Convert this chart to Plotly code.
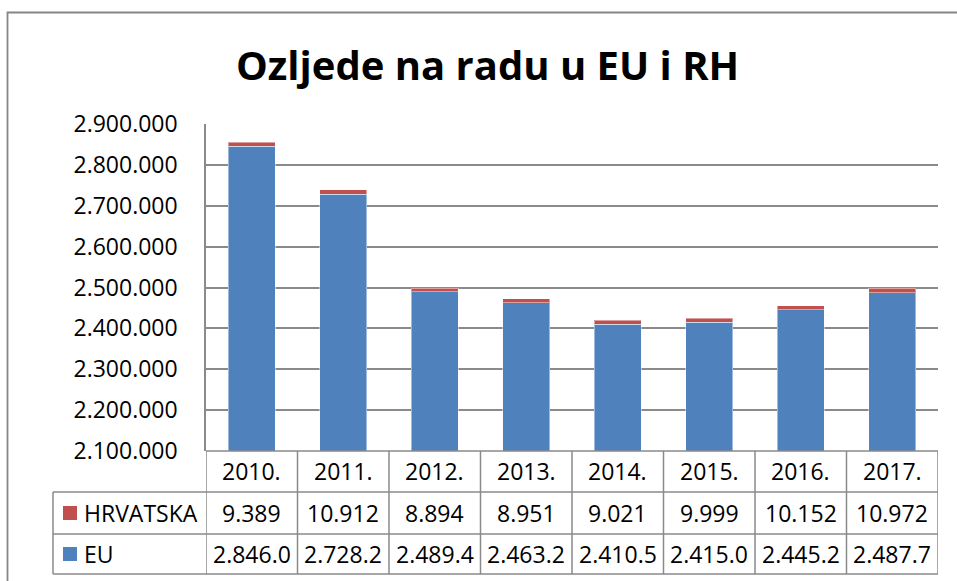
import plotly.graph_objects as go

years = ["2010.", "2011.", "2012.", "2013.", "2014.", "2015.", "2016.", "2017."]
hr_values = [9389, 10912, 8894, 8951, 9021, 9999, 10152, 10972]
eu_values = [2846000, 2728200, 2489400, 2463200, 2410500, 2415000, 2445200, 2487700]
series_names = ["HRVATSKA", "EU"]
title_text = "Ozljede na radu u EU i RH"

EU_COLOR = "#4F81BD"
HR_COLOR = "#C0504D"
GRID = "#8A8A8A"
FONT = "Open Sans"
FS = 23

W, H = 957, 581
L, R, T, B = 206, 19, 124, 130
PW = W - L - R
PH = H - T - B


def px(xp):
    return (xp - L) / PW


def py(yp):
    return (H - B - yp) / PH


def fmt(v):
    return f"{v:,}".replace(",", ".")


fig = go.Figure()
fig.add_trace(go.Bar(x=years, y=eu_values, name=series_names[1], marker=dict(color=EU_COLOR, line=dict(color="rgba(255,255,255,0.45)", width=1))))
fig.add_trace(go.Bar(x=years, y=hr_values, name=series_names[0], marker=dict(color=HR_COLOR, line=dict(color="rgba(255,255,255,0.45)", width=1))))

shapes = []
annotations = []

# outer chart border (left + top)
shapes.append(dict(type="path", xref="paper", yref="paper",
                   path=f"M {px(7.5)},{py(585)} L {px(7.5)},{py(12.5)} L {px(965)},{py(12.5)}",
                   line=dict(color="#868686", width=1.8)))

# table horizontal lines
y_rows = [451, 492, 534, 574]
for i, yy in enumerate(y_rows):
    x0 = px(206) if i == 0 else px(53)
    shapes.append(dict(type="line", xref="paper", yref="paper", x0=x0, x1=px(938), y0=py(yy), y1=py(yy),
                       line=dict(color=GRID, width=1.5)))
# table vertical lines at category boundaries
for i in range(len(years) + 1):
    shapes.append(dict(type="line", xref="x", yref="paper", x0=i - 0.5, x1=i - 0.5, y0=py(451), y1=py(574),
                       line=dict(color=GRID, width=1.5)))
shapes.append(dict(type="line", xref="paper", yref="paper", x0=px(53), x1=px(53), y0=py(492), y1=py(574),
                   line=dict(color=GRID, width=1.5)))

# legend keys
for yc, col in [(513, HR_COLOR), (554, EU_COLOR)]:
    shapes.append(dict(type="rect", xref="paper", yref="paper", x0=px(63), x1=px(77), y0=py(yc - 7), y1=py(yc + 7),
                       fillcolor=col, line=dict(width=0)))
for yc, name in [(513, series_names[0]), (554, series_names[1])]:
    annotations.append(dict(xref="paper", yref="paper", x=px(82), y=py(yc), text=name, showarrow=False,
                            xanchor="left", yanchor="middle", font=dict(family=FONT, size=FS, color="black")))

# table text
for i, yr in enumerate(years):
    annotations.append(dict(xref="x", yref="paper", x=i, y=py(471.5), text=yr, showarrow=False,
                            yanchor="middle", font=dict(family=FONT, size=FS, color="black")))
    annotations.append(dict(xref="x", yref="paper", x=i, y=py(513), text=fmt(hr_values[i]), showarrow=False,
                            yanchor="middle", font=dict(family=FONT, size=FS, color="black")))
    annotations.append(dict(xref="x", yref="paper", x=i, y=py(554), text=fmt(eu_values[i])[:7], showarrow=False,
                            yanchor="middle", font=dict(family=FONT, size=FS, color="black")))

# title
annotations.append(dict(xref="paper", yref="paper", x=px(487), y=py(64), text="<b>" + title_text + "</b>",
                        showarrow=False, xanchor="center", yanchor="middle",
                        font=dict(family=FONT, size=40, color="black")))

fig.update_layout(
    width=W, height=H,
    margin=dict(l=L, r=R, t=T, b=B, pad=0),
    paper_bgcolor="white", plot_bgcolor="white",
    barmode="stack", bargap=0.486,
    showlegend=False,
    separators=",.",
    font=dict(family=FONT, size=FS, color="black"),
    shapes=shapes, annotations=annotations,
)
fig.update_xaxes(type="category", showticklabels=False, showgrid=False, zeroline=False, showline=False,
                 range=[-0.5, len(years) - 0.5])
fig.update_yaxes(range=[2100000, 2900000], dtick=100000, tickformat=",d", showgrid=True, gridcolor=GRID,
                 gridwidth=1.5, showline=True, linecolor=GRID, linewidth=1.5, zeroline=False,
                 ticks="", ticklabelstandoff=22, tickfont=dict(family=FONT, size=FS, color="black"))

fig.write_html("out.html", config={"displayModeBar": False},
               post_script="document.body.style.margin='0';document.body.style.padding='0';")
